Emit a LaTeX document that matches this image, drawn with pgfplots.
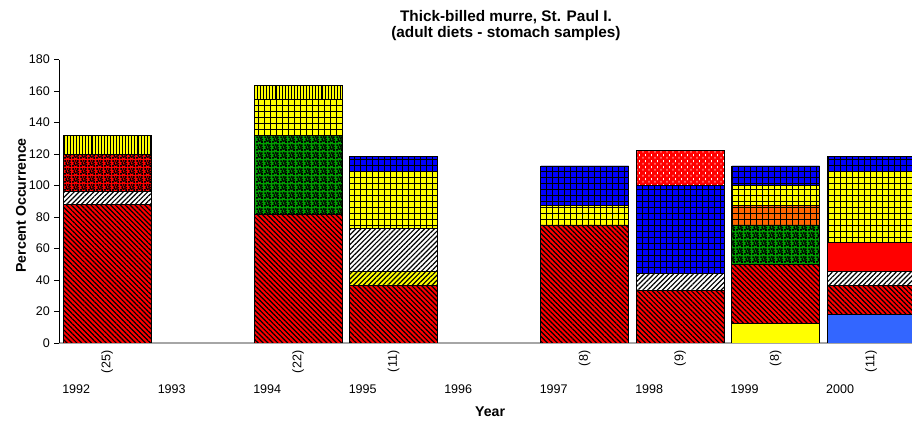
\documentclass[border=0pt]{standalone}
\usepackage{pgfplots}
\pgfplotsset{compat=1.18}
\usepackage{pgfplotstable}
\usepackage{fontspec}
\setmainfont{Liberation Sans}
\usetikzlibrary{patterns,patterns.meta}

\definecolor{xred}{HTML}{FF0000}
\definecolor{xyellow}{HTML}{FFFF00}
\definecolor{xgreen}{HTML}{00A000}
\definecolor{xblue}{HTML}{0000FF}
\definecolor{xorange}{HTML}{FF6600}
\definecolor{xlblue}{HTML}{3366FF}
\definecolor{axisgray}{HTML}{A6A6A6}

% small black blobs, like the spreadsheet "confetti" fill
\pgfdeclarepatternformonly{confetti}{\pgfqpoint{0pt}{0pt}}{\pgfqpoint{6pt}{6pt}}{\pgfqpoint{6pt}{6pt}}{%
  \pgfpathrectangle{\pgfqpoint{0.2pt}{0.3pt}}{\pgfqpoint{1.3pt}{1.3pt}}%
  \pgfpathrectangle{\pgfqpoint{2.3pt}{0.9pt}}{\pgfqpoint{1.3pt}{1.3pt}}%
  \pgfpathrectangle{\pgfqpoint{4.4pt}{0.2pt}}{\pgfqpoint{1.3pt}{1.3pt}}%
  \pgfpathrectangle{\pgfqpoint{1.1pt}{2.4pt}}{\pgfqpoint{1.3pt}{1.3pt}}%
  \pgfpathrectangle{\pgfqpoint{3.4pt}{2.9pt}}{\pgfqpoint{1.3pt}{1.3pt}}%
  \pgfpathrectangle{\pgfqpoint{4.9pt}{2.2pt}}{\pgfqpoint{1.1pt}{1.3pt}}%
  \pgfpathrectangle{\pgfqpoint{0.3pt}{4.3pt}}{\pgfqpoint{1.3pt}{1.3pt}}%
  \pgfpathrectangle{\pgfqpoint{2.4pt}{4.6pt}}{\pgfqpoint{1.3pt}{1.3pt}}%
  \pgfpathrectangle{\pgfqpoint{4.2pt}{4.3pt}}{\pgfqpoint{1.3pt}{1.3pt}}%
  \pgfpathrectangle{\pgfqpoint{1.6pt}{1.5pt}}{\pgfqpoint{0.9pt}{0.9pt}}%
  \pgfpathrectangle{\pgfqpoint{3.8pt}{1.6pt}}{\pgfqpoint{0.9pt}{0.9pt}}%
  \pgfpathrectangle{\pgfqpoint{2.0pt}{3.6pt}}{\pgfqpoint{0.9pt}{0.9pt}}%
  \pgfusepath{fill}}

% short vertical dashes
\pgfdeclarepatternformonly{vdashes}{\pgfqpoint{0pt}{0pt}}{\pgfqpoint{4.5pt}{4.5pt}}{\pgfqpoint{4.5pt}{4.5pt}}{%
  \pgfpathrectangle{\pgfqpoint{0.5pt}{0.3pt}}{\pgfqpoint{0.6pt}{1.6pt}}%
  \pgfpathrectangle{\pgfqpoint{2.75pt}{2.55pt}}{\pgfqpoint{0.6pt}{1.6pt}}%
  \pgfusepath{fill}}

% one row per bar (slot centre), one column per prey category, bottom to top
\pgfplotstableread{
x    A     B     C     D    E     F     G    H    I     J     K     L     M
0.5  0     0     88    0    8     0     24   0    0     0     0     0     12
2.5  0     0     81.8  0    0     0     0    50   0     22.7  0     0     9.1
3.5  0     0     36.4  9.1  27.3  0     0    0    0     36.4  9.1   0     0
5.5  0     0     75    0    0     0     0    0    0     12.5  25    0     0
6.5  0     0     33.3  0    11.1  0     0    0    0     0     55.6  22.2  0
7.5  12.5  0     37.5  0    0     0     0    25   12.5  12.5  12.5  0     0
8.5  0     18.2  18.2  0    9.1   18.2  0    0    0     45.5  9.1   0     0
}\diet

\begin{document}
\begin{tikzpicture}
\path[use as bounding box] (0,0) rectangle (684pt,317.25pt);
\clip (0,0) rectangle (684pt,317.25pt);
\begin{axis}[
  at={(44.6pt,60pt)}, anchor=south west,
  scale only axis, width=644.6pt, height=212.5pt,
  ybar stacked, bar width=0.92,
  xmin=0, xmax=9, ymin=0, ymax=180, enlargelimits=false,
  clip mode=individual,
  axis x line*=bottom, axis y line*=left,
  x axis line style={draw=axisgray, line width=1.1pt},
  y axis line style={draw=black, line width=0.7pt},
  ytick={0,20,...,180}, ytick align=outside, major tick length=3.75pt,
  ytick style={black, line width=0.7pt},
  xtick={0,1,2,3,4,5,6,7,8},
  xticklabels={1992,1993,1994,1995,1996,1997,1998,1999,2000},
  xtick style={draw=none},
  xticklabel style={anchor=north west, inner sep=0pt, xshift=1.9pt, yshift=-30.8pt},
  tick label style={font=\fontsize{9.4}{11}\selectfont},
  /pgf/number format/assume math mode=true,
  title={Thick-billed murre, St. Paul I.\\(adult diets - stomach samples)},
  title style={font=\bfseries\fontsize{11.5}{12.4}\selectfont, align=center,
    at={(axis description cs:0.5195,1.093)}, anchor=center},
  xlabel={Year},
  xlabel style={font=\bfseries\fontsize{10.6}{12}\selectfont,
    at={(axis description cs:0.501,-0.2414)}, anchor=center},
  ylabel={Percent Occurrence},
  ylabel style={font=\bfseries\fontsize{10.6}{12}\selectfont,
    at={(axis description cs:-0.0448,0.4857)}, anchor=center},
  every axis plot/.append style={draw=black, line width=0.6pt},
]
\addplot[fill=xyellow] table[x=x,y=A]{\diet};
\addplot[fill=xlblue] table[x=x,y=B]{\diet};
\addplot[fill=xred, postaction={pattern={Lines[angle=-45,distance=2.6pt,line width=0.9pt]}, pattern color=black}] table[x=x,y=C]{\diet};
\addplot[fill=xyellow, postaction={pattern={Lines[angle=45,distance=2.6pt,line width=0.9pt]}, pattern color=black}] table[x=x,y=D]{\diet};
\addplot[fill=white, postaction={pattern={Lines[angle=45,distance=2.6pt,line width=0.9pt]}, pattern color=black}] table[x=x,y=E]{\diet};
\addplot[fill=xred] table[x=x,y=F]{\diet};
\addplot[fill=xred, postaction={pattern=confetti, pattern color=black}] table[x=x,y=G]{\diet};
\addplot[fill=xgreen, postaction={pattern=confetti, pattern color=black}] table[x=x,y=H]{\diet};
\addplot[fill=xorange, postaction={pattern={Hatch[angle=0,distance=4.5pt,line width=0.6pt]}, pattern color=black}] table[x=x,y=I]{\diet};
\addplot[fill=xyellow, postaction={pattern={Hatch[angle=0,distance=4.5pt,line width=0.6pt]}, pattern color=black}] table[x=x,y=J]{\diet};
\addplot[fill=xblue, postaction={pattern={Hatch[angle=0,distance=4.5pt,line width=0.6pt]}, pattern color=black}] table[x=x,y=K]{\diet};
\addplot[fill=xred, postaction={pattern=vdashes, pattern color=white}] table[x=x,y=L]{\diet};
\addplot[fill=xyellow, postaction={pattern={Lines[angle=90,distance=2.3pt,line width=0.8pt]}, pattern color=black}] table[x=x,y=M]{\diet};
% sample sizes under the bars
\foreach \xx/\nn in {0.5/(25),2.5/(22),3.5/(11),5.5/(8),6.5/(9),7.5/(8),8.5/(11)} {
  \edef\tmp{\noexpand\node[yshift=-5.6pt, rotate=90, anchor=east, inner sep=0pt,
    font=\noexpand\fontsize{9.4}{11}\noexpand\selectfont] at (axis cs:\xx,0) {\nn};}
  \tmp
}
\end{axis}
\end{tikzpicture}
\end{document}
